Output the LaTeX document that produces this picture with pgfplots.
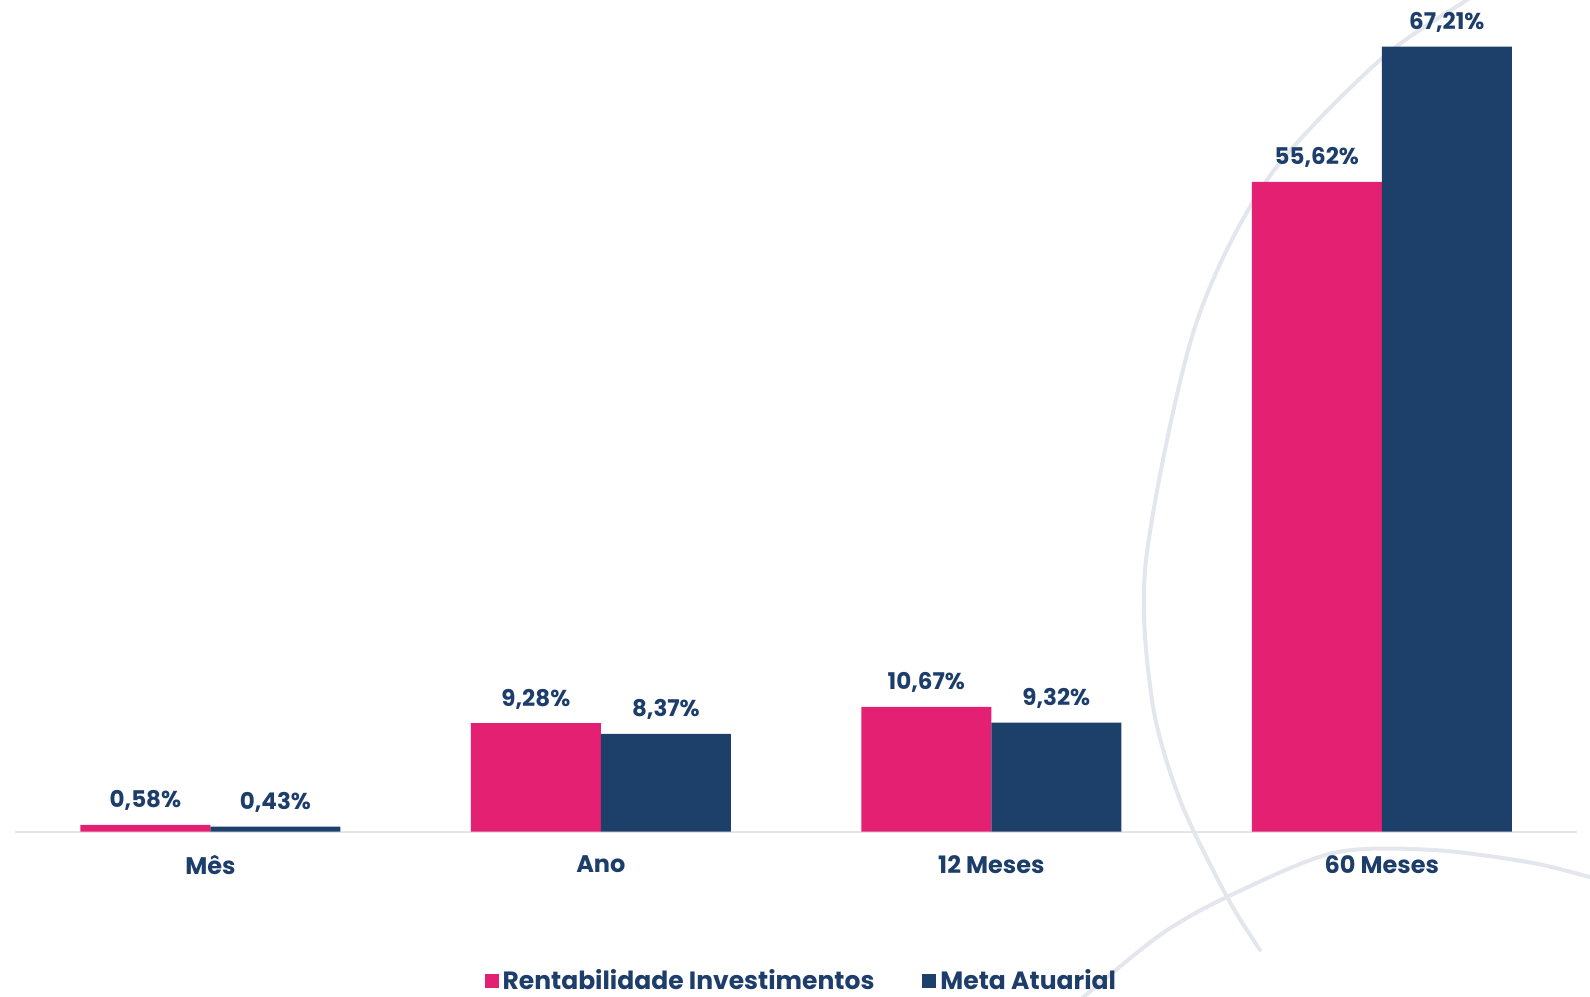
\documentclass[border=0pt]{standalone}
\usepackage{pgfplots}
\pgfplotsset{compat=1.18}
\usepackage{fontspec}
\setmainfont{Poppins}
\definecolor{pinkc}{HTML}{E42072}
\definecolor{bluec}{HTML}{1D406B}
\definecolor{txtc}{HTML}{1D3D6A}
\definecolor{wm}{HTML}{E3E6EC}
\begin{document}
\begin{tikzpicture}
\useasboundingbox (0,0) rectangle (795pt,498pt);
% decorative watermark arcs
\draw[wm, line width=2pt, line cap=round] plot[smooth] coordinates {(750pt,508pt) (733.5pt,498pt) (690pt,468pt) (633.5pt,408pt) (597pt,333pt) (573pt,218pt) (576pt,148pt) (590pt,98pt) (613.5pt,49.5pt) (630pt,23pt)};
\draw[wm, line width=2pt] plot[smooth] coordinates {(540pt,-2pt) (580pt,30.5pt) (613.5pt,49.5pt) (666.5pt,71.5pt) (716.5pt,73pt) (766.5pt,66.5pt) (800pt,58pt)};
\node[anchor=north, text=txtc, font=\bfseries\fontsize{9}{10}\selectfont\addfontfeature{LetterSpace=25}] at (730pt,2pt) {FUNDAÇÃO};
\begin{axis}[
  at={(7.6pt,82.2pt)}, anchor=south west,
  width=780.9pt, height=415.8pt, scale only axis,
  ybar=0pt, bar width=0.333,
  xmin=-0.5, xmax=3.5, ymin=0, ymax=71.2,
  axis y line=none, axis x line*=bottom,
  x axis line style={draw=black!10, line width=1pt, -},
  xtick={0,1,2,3}, xticklabels={Mês,Ano,12 Meses,60 Meses},
  major tick length=0pt,
  xticklabel style={font=\bfseries\fontsize{12}{14}\selectfont, text=txtc, yshift=-8.5pt},
  clip=false,
  /pgf/number format/assume math mode=true,
  nodes near coords={\pgfmathprintnumber[fixed, fixed zerofill, precision=2, use comma]{\pgfplotspointmeta}\%},
  every node near coord/.append style={font=\bfseries\fontsize{11.5}{13}\selectfont, text=txtc, anchor=south, yshift=3.5pt},
  legend columns=2,
  legend style={at={(0.504,-0.180)}, anchor=center, draw=none, fill=none,
    font=\bfseries\fontsize{12.5}{15}\selectfont, text=txtc,
    /tikz/every even column/.append style={column sep=22pt},
    legend cell align=left},
  legend image code/.code={\fill[#1] (0pt,-3.5pt) rectangle (7pt,3.5pt);},
]
\addplot[fill=pinkc, draw=none] coordinates {(0,0.58) (1,9.28) (2,10.67) (3,55.62)};
\addplot[fill=bluec, draw=none] coordinates {(0,0.43) (1,8.37) (2,9.32) (3,67.21)};
\legend{Rentabilidade Investimentos, Meta Atuarial}
\end{axis}
\end{tikzpicture}
\end{document}
